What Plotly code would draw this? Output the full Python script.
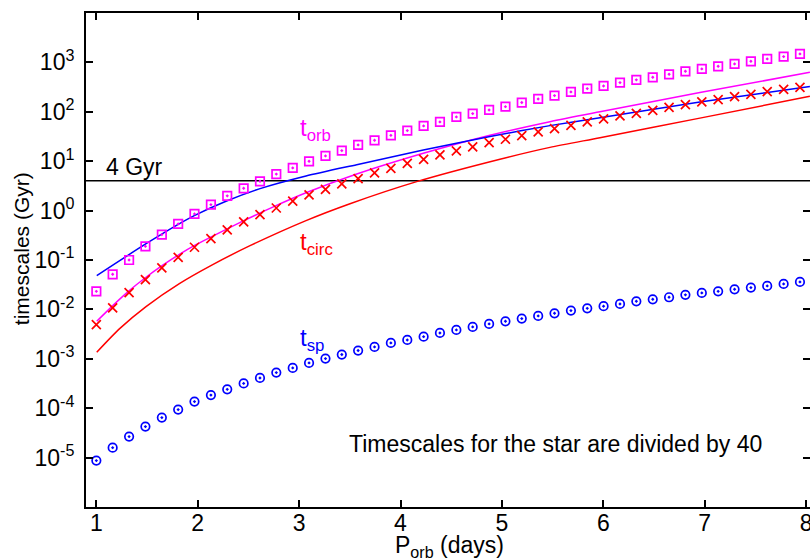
import plotly.graph_objects as go

# ---------------- data ----------------
period = [1.000, 1.161, 1.323, 1.484, 1.646, 1.807, 1.968, 2.130, 2.291, 2.453,
          2.614, 2.775, 2.937, 3.098, 3.260, 3.421, 3.582, 3.744, 3.905, 4.067,
          4.228, 4.389, 4.551, 4.712, 4.874, 5.035, 5.196, 5.358, 5.519, 5.681,
          5.842, 6.003, 6.165, 6.326, 6.488, 6.649, 6.810, 6.972, 7.133, 7.295,
          7.456, 7.617, 7.779, 7.940]

# planet timescales (symbols)
t_orb_planet = [0.0232, 0.0514, 0.100, 0.189, 0.327, 0.538, 0.857, 1.32, 1.99, 2.83,
                3.92, 5.48, 7.31, 9.95, 12.8, 16.4, 21.4, 26.5, 33.4, 41.6,
                51.8, 62.5, 78.8, 92.0, 109, 127, 154, 182, 213, 253,
                295, 334, 390, 443, 499, 574, 661, 738, 834, 933,
                1052, 1178, 1310, 1486]

t_circ_planet = [0.00492, 0.0107, 0.0219, 0.0401, 0.0692, 0.1135, 0.181, 0.271, 0.407, 0.590,
                 0.830, 1.13, 1.56, 2.08, 2.70, 3.47, 4.44, 5.80, 7.18, 9.07,
                 10.9, 13.4, 16.2, 19.5, 23.8, 27.8, 33.0, 39.4, 45.7, 53.3,
                 62.5, 71.8, 82.6, 93.3, 107, 123, 140, 159, 177, 203,
                 226, 256, 285, 313]

t_sp_planet = [8.69e-6, 1.59e-5, 2.66e-5, 4.24e-5, 6.45e-5, 9.37e-5, 1.36e-4, 1.84e-4, 2.41e-4, 3.18e-4,
               4.10e-4, 5.26e-4, 6.54e-4, 8.26e-4, 1.01e-3, 1.22e-3, 1.47e-3, 1.74e-3, 2.10e-3, 2.41e-3,
               2.81e-3, 3.34e-3, 3.85e-3, 4.42e-3, 5.09e-3, 5.74e-3, 6.52e-3, 7.38e-3, 8.34e-3, 9.46e-3,
               0.0105, 0.0116, 0.0129, 0.0146, 0.0160, 0.0176, 0.0197, 0.0216, 0.0232, 0.0255,
               0.0276, 0.0299, 0.0328, 0.0360]

# star timescales (lines, divided by 40)
sp_star_period = [1.004, 1.483, 1.803, 1.966, 2.279, 2.607, 3.068, 3.568, 4.225, 4.883,
                  5.474, 5.967, 6.953, 8.038]
sp_star = [0.0483, 0.209, 0.521, 0.794, 1.55, 2.75, 5.01, 8.51, 16.8, 31.6,
           52.5, 75.9, 158, 324]

orb_star_period = [1.004, 1.162, 1.325, 1.490, 1.655, 1.819, 1.983, 2.148, 2.444, 2.740,
                   3.068, 3.568, 4.225, 4.883, 5.474, 5.967, 6.953, 8.038]
orb_star = [0.00574, 0.01194, 0.0240, 0.0447, 0.0785, 0.130, 0.204, 0.305, 0.610, 1.175,
            2.29, 5.50, 14.45, 33.5, 63.1, 100, 245, 631]

circ_star_period = [1.004, 1.227, 1.490, 1.819, 2.148, 2.516, 3.068, 3.502, 4.160, 4.981,
                    5.474, 5.967, 6.953, 8.038]
circ_star = [0.001355, 0.00403, 0.0114, 0.0333, 0.0807, 0.195, 0.628, 1.38, 3.86, 10.96,
             19.05, 29.9, 74.5, 206]

age_line = 4.0  # Gyr
x_range = [0.898, 8.039]
y_log_range = [-6, 4]

y_tick_vals = [1e-5, 1e-4, 1e-3, 1e-2, 1e-1, 1e0, 1e1, 1e2, 1e3]
y_tick_text = ["10<sup>-5</sup>", "10<sup>-4</sup>", "10<sup>-3</sup>", "10<sup>-2</sup>",
               "10<sup>-1</sup>", "10<sup>0</sup>", "10<sup>1</sup>", "10<sup>2</sup>",
               "10<sup>3</sup>"]
x_tick_vals = [1, 2, 3, 4, 5, 6, 7, 8]

MAG = "#ff00ff"
RED = "#ff0000"
BLUE = "#0000ff"
FONT = "Liberation Sans, Arial, Helvetica, sans-serif"

fig = go.Figure()

# 4 Gyr horizontal line
fig.add_trace(go.Scatter(x=x_range, y=[age_line, age_line], mode="lines",
                         line=dict(color="black", width=1.5), hoverinfo="skip"))

# star lines
fig.add_trace(go.Scatter(x=circ_star_period, y=circ_star, mode="lines",
                         line=dict(color=RED, width=1.5, shape="spline", smoothing=0.7)))
fig.add_trace(go.Scatter(x=orb_star_period, y=orb_star, mode="lines",
                         line=dict(color=MAG, width=1.5, shape="spline", smoothing=0.7)))
fig.add_trace(go.Scatter(x=sp_star_period, y=sp_star, mode="lines",
                         line=dict(color=BLUE, width=1.5, shape="spline", smoothing=0.7)))

# planet symbols
fig.add_trace(go.Scatter(x=period, y=t_orb_planet, mode="markers",
                         marker=dict(symbol="square-open-dot", size=8.5, color=MAG,
                                     line=dict(width=1.7, color=MAG))))
fig.add_trace(go.Scatter(x=period, y=t_circ_planet, mode="markers",
                         marker=dict(symbol="x-thin-open", size=9, color=RED,
                                     line=dict(width=1.7, color=RED))))
fig.add_trace(go.Scatter(x=period, y=t_sp_planet, mode="markers",
                         marker=dict(symbol="circle-open-dot", size=8.5, color=BLUE,
                                     line=dict(width=1.7, color=BLUE))))

# helper trace for the right-hand ticks
fig.add_trace(go.Scatter(x=[], y=[], yaxis="y2", hoverinfo="skip"))

ann_font = dict(family=FONT, size=23)
lab_font = dict(family=FONT, size=24)
fig.add_annotation(x=1.08, y=0.89, xref="x", yref="y", text="4 Gyr", showarrow=False,
                   xanchor="left", yanchor="middle", font=dict(ann_font, color="black"))
fig.add_annotation(x=2.99, y=1.64, xref="x", yref="y", text="t<sub>orb</sub>", showarrow=False,
                   xanchor="left", yanchor="middle", font=dict(lab_font, color=MAG))
fig.add_annotation(x=2.99, y=-0.67, xref="x", yref="y", text="t<sub>circ</sub>", showarrow=False,
                   xanchor="left", yanchor="middle", font=dict(lab_font, color=RED))
fig.add_annotation(x=2.99, y=-2.61, xref="x", yref="y", text="t<sub>sp</sub>", showarrow=False,
                   xanchor="left", yanchor="middle", font=dict(lab_font, color=BLUE))
fig.add_annotation(x=3.47, y=-4.72, xref="x", yref="y",
                   text="Timescales for the star are divided by 40", showarrow=False,
                   xanchor="left", yanchor="middle", font=dict(ann_font, color="black"))

# axis titles as annotations (exact placement)
fig.add_annotation(x=-0.0898, y=0.524, xref="paper", yref="paper", text="timescales (Gyr)",
                   textangle=-90, showarrow=False, xanchor="center", yanchor="middle",
                   font=dict(family=FONT, size=21, color="black"))
fig.add_annotation(x=0.502, y=-0.046, xref="paper", yref="paper", text="P<sub>orb</sub> (days)",
                   showarrow=False, xanchor="center", yanchor="top",
                   font=dict(family=FONT, size=23, color="black"))

fig.update_layout(
    width=810, height=558,
    margin=dict(l=86, r=0, t=13, b=51),
    paper_bgcolor="white", plot_bgcolor="white",
    showlegend=False,
    font=dict(family=FONT, size=23, color="black"),
    xaxis=dict(range=x_range, tickvals=x_tick_vals, ticks="inside", ticklen=7, tickwidth=1.5,
               tickcolor="black", showline=True, linecolor="black", linewidth=2,
               mirror="ticks", showgrid=False, zeroline=False, automargin=False,
               ticklabelstandoff=-6, ticklabeloverflow="allow", tickfont=dict(size=23)),
    yaxis=dict(type="log", range=y_log_range, tickvals=y_tick_vals, ticktext=y_tick_text,
               ticks="inside", ticklen=7, tickwidth=1.5, tickcolor="black",
               showline=True, linecolor="black", linewidth=2, mirror=False,
               showgrid=False, zeroline=False, automargin=False,
               ticklabelstandoff=5, tickfont=dict(size=23)),
    yaxis2=dict(type="log", range=y_log_range, tickvals=y_tick_vals, overlaying="y", side="right",
                ticks="inside", ticklen=7, tickwidth=1.5, tickcolor="black",
                showticklabels=False, showline=False, showgrid=False, zeroline=False,
                automargin=False),
)

page_fix = ("document.body.style.margin='0px';document.body.style.padding='0px';"
            "document.documentElement.style.overflow='hidden';")
fig.write_html("out.html", post_script=page_fix, config={"displayModeBar": False})
